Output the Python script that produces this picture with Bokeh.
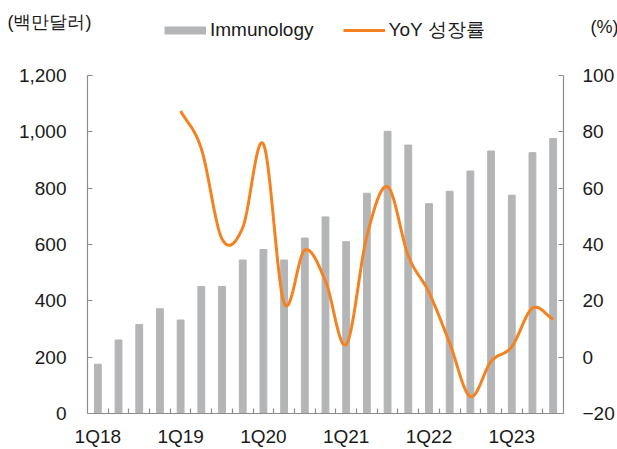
import numpy as np
from bokeh.plotting import figure
from bokeh.models import (Range1d, LinearAxis, FixedTicker, NumeralTickFormatter,
                          Legend, LegendItem, Label, ColumnDataSource)
from bokeh.embed import file_html
from bokeh.resources import INLINE

quarters = ["1Q18", "2Q18", "3Q18", "4Q18", "1Q19", "2Q19", "3Q19", "4Q19",
            "1Q20", "2Q20", "3Q20", "4Q20", "1Q21", "2Q21", "3Q21", "4Q21",
            "1Q22", "2Q22", "3Q22", "4Q22", "1Q23", "2Q23", "3Q23"]
sales = [175, 261, 316, 372, 332, 451, 451, 545, 582, 545, 623, 698,
         610, 782, 1002, 953, 745, 789, 861, 932, 775, 926, 976]
yoy = [None, None, None, None, 87.4, 74, 42, 46, 75.7, 19.2, 38, 27,
       4.5, 43, 60.5, 36, 23, 5, -14, -1.5, 3.7, 17.4, 13.4]
tick_labels = ["1Q18", "1Q19", "1Q20", "1Q21", "1Q22", "1Q23"]

GRAY = "#b4b5b7"
ORANGE = "#f58220"
AXIS = "#8c8c8c"
TXT = "#1a1a1a"
FONT = "Liberation Sans"

x_idx = list(range(len(quarters)))

# smooth line (Catmull-Rom through the data points, like a smoothed Excel line)
pts_x = [i for i, v in zip(x_idx, yoy) if v is not None]
pts_y = [v for v in yoy if v is not None]
px = np.array(pts_x, dtype=float)
py = np.array(pts_y, dtype=float)
sx, sy = [], []
n = len(px)
for i in range(n - 1):
    p0 = py[i - 1] if i > 0 else py[i]
    p1, p2 = py[i], py[i + 1]
    p3 = py[i + 2] if i + 2 < n else py[i + 1]
    m1 = (p2 - p0) / (2.0 if i > 0 else 1.0)
    m2 = (p3 - p1) / (2.0 if i + 2 < n else 1.0)
    t = np.linspace(0, 1, 25)
    h00 = 2 * t**3 - 3 * t**2 + 1
    h10 = t**3 - 2 * t**2 + t
    h01 = -2 * t**3 + 3 * t**2
    h11 = t**3 - t**2
    seg = h00 * p1 + h10 * m1 + h01 * p2 + h11 * m2
    segx = px[i] + t * (px[i + 1] - px[i])
    if i > 0:
        seg, segx = seg[1:], segx[1:]
    sx.extend(segx.tolist())
    sy.extend(seg.tolist())

W = 617
HEAD_H = 48
MAIN_H = 449 - HEAD_H

# ---------------- header (unit labels + legend) ----------------
head = figure(width=W, height=HEAD_H, x_range=Range1d(0, W), y_range=Range1d(0, HEAD_H),
              output_backend="svg", toolbar_location=None,
              x_axis_location=None, y_axis_location=None,
              min_border=0, min_border_left=0, min_border_right=0,
              min_border_top=0, min_border_bottom=0)
head.xgrid.visible = False
head.ygrid.visible = False
head.outline_line_color = None

nan2 = [float("nan"), float("nan")]
leg_bar = head.line(x=[0, 1], y=nan2, color=GRAY, line_width=8, line_cap="butt")
leg_line = head.line(x=[0, 1], y=nan2, color=ORANGE, line_width=3)
legend = Legend(items=[LegendItem(label="Immunology", renderers=[leg_bar]),
                       LegendItem(label="YoY 성장률", renderers=[leg_line])],
                orientation="horizontal", location=(164, 5),
                glyph_width=42, glyph_height=22, label_height=22, label_standoff=4, spacing=29,
                padding=0, margin=0, border_line_color=None, background_fill_alpha=0,
                label_text_font=FONT, label_text_font_size="19px", label_text_color=TXT)
head.add_layout(legend, "center")
head.add_layout(Label(x=7, y=27, x_units="screen", y_units="screen", text="(백만달러)",
                      text_font=FONT, text_font_size="18px", text_color=TXT,
                      text_baseline="middle"))
head.add_layout(Label(x=590, y=22, x_units="screen", y_units="screen", text="(%)",
                      text_font=FONT, text_font_size="18px", text_color=TXT,
                      text_baseline="middle"))

# ---------------- main chart ----------------
p = figure(width=W, height=MAIN_H,
           x_range=Range1d(-0.5, len(quarters) - 0.5), y_range=Range1d(0, 1200),
           output_backend="svg", toolbar_location=None,
           min_border_left=87, min_border_right=52, min_border_top=27, min_border_bottom=34)
p.extra_y_ranges = {"pct": Range1d(-20, 100)}
p.outline_line_color = None
p.xgrid.visible = False
p.ygrid.visible = False
p.background_fill_color = "white"

src = ColumnDataSource(dict(x=x_idx, sales=sales, q=quarters))
p.vbar(x="x", top="sales", width=0.33, color=GRAY, source=src)
p.line(sx, sy, y_range_name="pct", color=ORANGE, line_width=3)

ya = p.yaxis[0]
ya.ticker = FixedTicker(ticks=list(range(0, 1201, 200)))
ya.formatter = NumeralTickFormatter(format="0,0")
ra = LinearAxis(y_range_name="pct", ticker=FixedTicker(ticks=list(range(-20, 101, 20))))
p.add_layout(ra, "right")

for ax in (ya, ra):
    ax.axis_line_color = AXIS
    ax.axis_line_width = 1.2
    ax.major_tick_line_color = AXIS
    ax.major_tick_line_width = 1.2
    ax.major_tick_in = 5
    ax.major_tick_out = 0
    ax.minor_tick_line_color = None
    ax.major_label_text_font = FONT
    ax.major_label_text_font_size = "19px"
    ax.major_label_text_color = TXT
ya.major_label_standoff = 21
ra.major_label_standoff = 19

xa = p.xaxis[0]
label_pos = [quarters.index(t) for t in tick_labels]
xa.ticker = FixedTicker(ticks=label_pos, minor_ticks=[i + 0.5 for i in range(len(quarters) - 1)])
xa.major_label_overrides = {pos: t for pos, t in zip(label_pos, tick_labels)}
xa.axis_line_color = AXIS
xa.axis_line_width = 1.2
xa.major_tick_line_color = None
xa.major_tick_in = 0
xa.major_tick_out = 0
xa.minor_tick_line_color = AXIS
xa.minor_tick_line_width = 1.2
xa.minor_tick_in = 5
xa.minor_tick_out = 0
xa.major_label_standoff = 12
xa.major_label_text_font = FONT
xa.major_label_text_font_size = "19px"
xa.major_label_text_color = TXT

open("out.html", "w").write(file_html([head, p], INLINE))
